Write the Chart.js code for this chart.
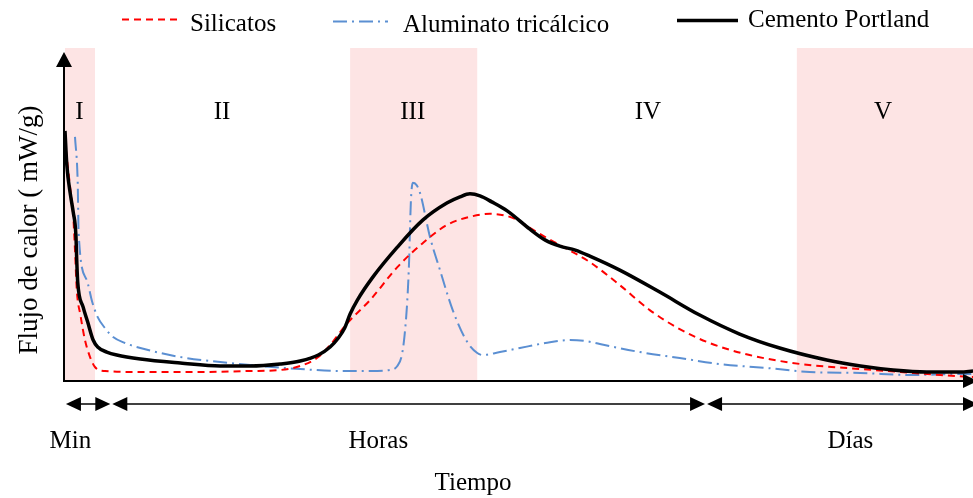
<!DOCTYPE html>
<html>
<head>
<meta charset="utf-8">
<script src="https://cdn.jsdelivr.net/npm/chart.js@4.4.1/dist/chart.umd.min.js"></script>
<style>
  html, body { margin: 0; padding: 0; background: #ffffff; }
  canvas { display: block; }
</style>
</head>
<body>
<canvas id="c" width="973" height="498"></canvas>
<script>
// Heat flow during cement hydration, [time, heat flow] in relative units (0-100)
const silicatos = [
  [0.1,69.4],[0.6,57.4],[0.9,49.9],[1.1,39.3],[1.3,27.3],[1.7,19.8],[2.2,12.3],[2.8,6.9],
  [3.3,4.2],[4.4,3.0],[8.3,2.7],[14.9,2.7],[20.4,3.0],[23.7,3.3],[25.9,4.5],[27.9,7.2],
  [29.2,10.8],[31.1,17.4],[33.6,24.3],[36.6,34.2],[39.4,41.4],[42.1,46.9],[44.6,49.3],
  [46.8,50.2],[49.3,49.0],[51.2,46.0],[52.9,43.2],[54.5,40.8],[57.8,35.7],[61.1,28.8],
  [64.4,21.3],[67.7,15.6],[71.0,11.4],[75.4,7.8],[81.0,5.1],[87.6,3.6],[92.0,2.7],
  [96.4,1.8],[100,1.2]
];
const aluminato = [
  [1.1,73.3],[1.4,59.5],[1.5,44.4],[2.4,30.3],[3.0,23.7],[3.6,19.2],[4.4,15.9],[5.3,13.2],
  [6.6,11.4],[8.3,9.9],[12.7,7.2],[17.1,5.7],[21.5,4.5],[25.9,3.6],[30.3,3.0],[33.6,3.0],
  [35.8,3.3],[36.6,4.5],[37.1,7.8],[37.4,13.8],[37.7,24.3],[37.9,36.3],[38.0,46.3],
  [38.1,54.4],[38.3,59.5],[38.7,58.9],[39.1,56.5],[40.2,43.2],[41.3,33.3],[42.7,21.3],
  [44.3,11.7],[45.4,8.4],[46.0,7.8],[47.9,8.7],[50.1,9.9],[52.9,11.4],[55.6,12.3],
  [57.3,12.0],[58.9,11.1],[63.3,8.7],[67.7,6.9],[72.1,5.1],[77.3,3.9],[82.0,2.7],
  [87.6,2.4],[93.1,1.8],[98.6,2.1],[100,2.1]
];
const cementoPortland = [
  [0,75.1],[0.2,64.9],[0.6,55.9],[0.9,50.8],[1.2,43.8],[1.3,35.7],[1.4,29.7],[2.0,22.2],
  [2.5,17.7],[3.1,12.3],[3.6,10.2],[4.6,8.7],[5.7,7.8],[8.3,6.6],[12.7,5.4],[17.1,4.5],
  [20.4,4.5],[23.7,5.1],[25.9,6.0],[27.9,7.8],[29.2,10.2],[30.1,12.9],[30.8,15.9],
  [31.4,20.1],[32.2,24.3],[33.9,31.2],[36.6,40.2],[39.4,48.3],[42.1,53.5],[43.5,55.3],
  [44.6,56.2],[45.7,55.6],[47.0,53.8],[48.7,51.1],[51.2,45.6],[52.9,42.3],[54.5,40.5],
  [56.2,39.3],[57.8,37.5],[61.1,33.3],[65.5,26.7],[69.9,19.8],[74.3,14.1],[78.7,9.9],
  [83.9,6.3],[87.6,4.5],[91.2,3.3],[94.9,2.7],[98.6,2.7],[100,3.0]
];

// Hydration stages and their time limits
const stageLabels = ['I', 'II', 'III', 'IV', 'V'];
const stageBounds = [0, 3.3, 31.4, 45.4, 80.6, 100];
const shadedStages = [0, 2, 4];

// Time scale bands shown under the axis
const timeBands = ['Min', 'Horas', 'Días'];
const timeBandBounds = [0.1, 5.1, 70.6, 100];

const seriesNames = ['Silicatos', 'Aluminato tricálcico', 'Cemento Portland'];

const SERIF = "'Liberation Serif', 'Times New Roman', serif";
const toXY = arr => arr.map(p => ({ x: p[0], y: p[1] }));

function arrowHead(ctx, tipX, tipY, dir, len, half) {
  // dir: unit vector pointing toward the tip
  const bx = tipX - dir[0] * len, by = tipY - dir[1] * len;
  ctx.beginPath();
  ctx.moveTo(tipX, tipY);
  ctx.lineTo(bx - dir[1] * half, by + dir[0] * half);
  ctx.lineTo(bx + dir[1] * half, by - dir[0] * half);
  ctx.closePath();
  ctx.fill();
}

const decorations = {
  id: 'decorations',
  beforeDatasetsDraw(chart) {
    const { ctx, chartArea: a, scales: { x } } = chart;
    ctx.save();
    ctx.fillStyle = '#FDE4E4';
    shadedStages.forEach(i => {
      const x0 = x.getPixelForValue(stageBounds[i]);
      const x1 = x.getPixelForValue(stageBounds[i + 1]);
      ctx.fillRect(x0, a.top, x1 - x0, a.bottom - a.top);
    });
    ctx.restore();
  },
  afterDatasetsDraw(chart) {
    const { ctx, chartArea: a, scales: { x } } = chart;
    ctx.save();
    ctx.fillStyle = '#000';
    ctx.strokeStyle = '#000';

    // axes with arrowheads
    const ox = a.left - 1, oy = a.bottom;
    ctx.lineWidth = 2;
    ctx.beginPath();
    ctx.moveTo(ox, oy + 1);
    ctx.lineTo(ox, a.top + 16);
    ctx.moveTo(ox - 1, oy);
    ctx.lineTo(a.right, oy);
    ctx.stroke();
    arrowHead(ctx, ox, a.top + 4, [0, -1], 15, 8);
    arrowHead(ctx, a.right + 5, oy, [1, 0], 15, 7);

    // stage labels
    ctx.font = '25px ' + SERIF;
    ctx.textAlign = 'center';
    ctx.textBaseline = 'alphabetic';
    const stageLabelAt = [1.6, 17.3, 38.3, 64.2, 90.1];
    stageLabels.forEach((s, i) => {
      ctx.fillText(s, x.getPixelForValue(stageLabelAt[i]), 119);
    });

    // time bands under the axis
    const ay = 404;
    ctx.lineWidth = 1.5;
    for (let i = 0; i < timeBands.length; i++) {
      const p0 = x.getPixelForValue(timeBandBounds[i]) + (i === 0 ? 0 : 1);
      let p1 = x.getPixelForValue(timeBandBounds[i + 1]) - (i === timeBands.length - 1 ? -5 : 1);
      ctx.beginPath();
      ctx.moveTo(p0 + 5, ay);
      ctx.lineTo(p1 - 5, ay);
      ctx.stroke();
      arrowHead(ctx, p0, ay, [-1, 0], 15, 7);
      arrowHead(ctx, p1, ay, [1, 0], 15, 7);
    }
    const bandLabelAt = [0.6, 34.5, 86.5];
    timeBands.forEach((s, i) => {
      ctx.fillText(s, x.getPixelForValue(bandLabelAt[i]), 448);
    });

    // axis titles
    ctx.fillText('Tiempo', 473, 490);
    ctx.save();
    ctx.translate(37, 230);
    ctx.rotate(-Math.PI / 2);
    ctx.font = '27px ' + SERIF;
    ctx.fillText('Flujo de calor ( mW/g)', 0, 0);
    ctx.restore();

    // legend
    ctx.textAlign = 'left';
    const legend = [
      { i: 0, x0: 122, x1: 182, y: 19.5, tx: 190, ty: 31 },
      { i: 1, x0: 333, x1: 388, y: 21.5, tx: 403, ty: 32 },
      { i: 2, x0: 677, x1: 738, y: 20.5, tx: 748, ty: 27 }
    ];
    const ds = chart.data.datasets;
    legend.forEach(L => {
      const d = ds.find(dd => dd.label === seriesNames[L.i]);
      ctx.save();
      ctx.strokeStyle = d.borderColor;
      ctx.lineWidth = d.borderWidth;
      ctx.setLineDash(d.borderDash || []);
      ctx.beginPath();
      ctx.moveTo(L.x0, L.y);
      ctx.lineTo(L.x1, L.y);
      ctx.stroke();
      ctx.restore();
      ctx.fillText(seriesNames[L.i], L.tx, L.ty);
    });
    ctx.restore();
  }
};

new Chart(document.getElementById('c'), {
  type: 'line',
  data: {
    datasets: [
      {
        label: seriesNames[2], data: toXY(cementoPortland),
        borderColor: '#000000', borderWidth: 3.5, order: 0
      },
      {
        label: seriesNames[0], data: toXY(silicatos),
        borderColor: '#FF0000', borderWidth: 2, borderDash: [7, 5], order: 1
      },
      {
        label: seriesNames[1], data: toXY(aluminato),
        borderColor: '#5B8FD2', borderWidth: 2, borderDash: [14, 5, 2, 5], order: 2
      }
    ].map(d => Object.assign({ pointRadius: 0, fill: false, cubicInterpolationMode: 'monotone' }, d))
  },
  options: {
    responsive: false,
    animation: false,
    devicePixelRatio: 1,
    layout: { padding: { left: 65, right: 0, top: 48, bottom: 117 } },
    scales: {
      x: { type: 'linear', min: 0, max: 100, display: false },
      y: { min: 0, max: 100, display: false }
    },
    plugins: { legend: { display: false }, tooltip: { enabled: false } }
  },
  plugins: [decorations]
});
</script>
</body>
</html>
